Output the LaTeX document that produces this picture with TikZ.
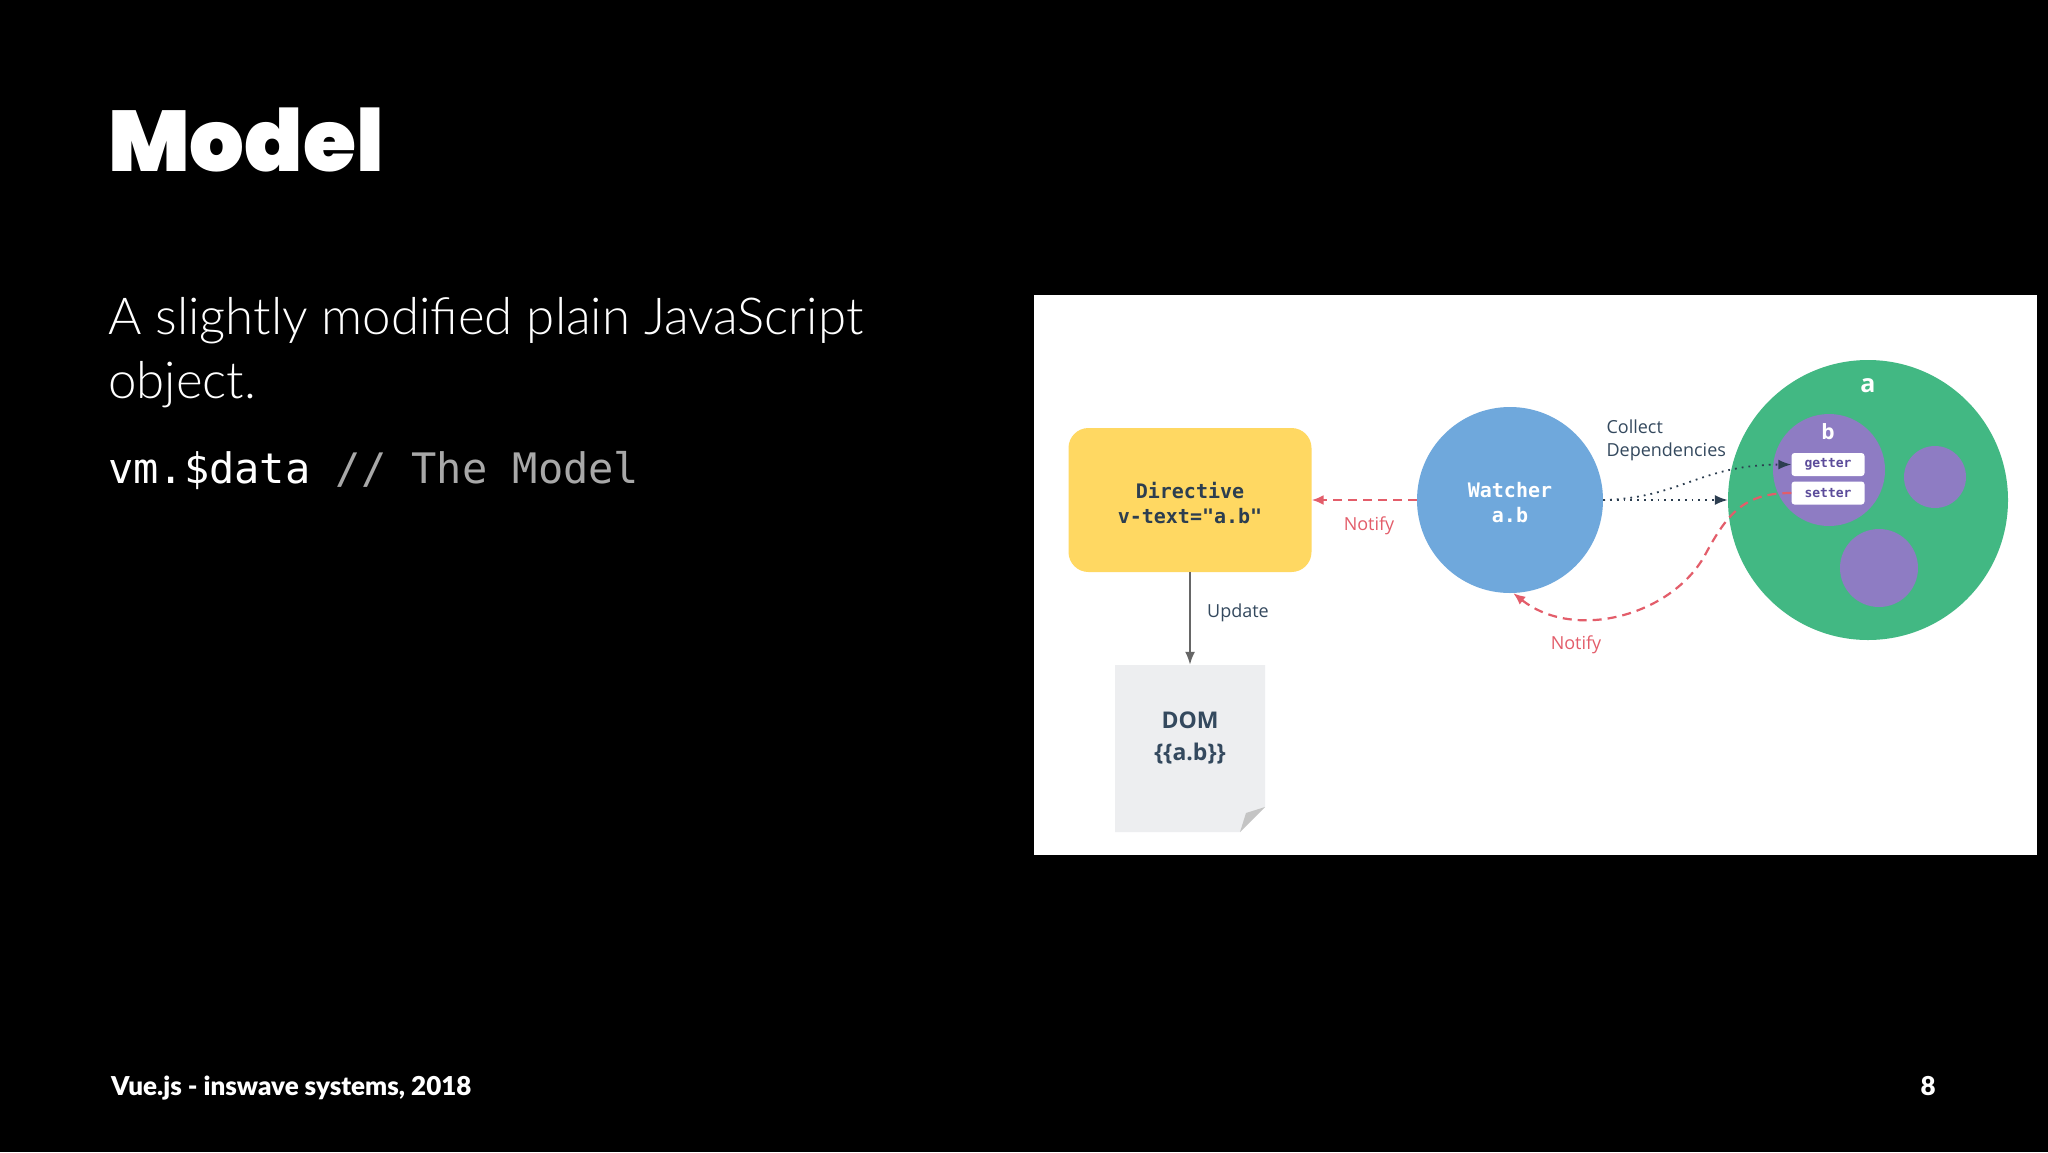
\documentclass[tikz,border=0pt]{standalone}
\usepackage{fontspec}
\setmainfont{Lato}
\newfontfamily\bodyfont{Lato Light}
\newfontfamily\footfont{Lato Black}
\newfontfamily\titlefont{Poppins Black}
\newfontfamily\codefont{DejaVu Sans Mono}
\newfontfamily\diafont{Open Sans}
\usetikzlibrary{arrows.meta}
\definecolor{dyellow}{HTML}{FFD862}
\definecolor{dblue}{HTML}{6FA8DC}
\definecolor{dgreen}{HTML}{42B883}
\definecolor{dpurple}{HTML}{8E7CC3}
\definecolor{dred}{HTML}{E35D6A}
\definecolor{dnavy}{HTML}{2C3E50}
\definecolor{dtext}{HTML}{34495E}
\definecolor{domfill}{HTML}{EDEEF0}
\definecolor{foldgray}{HTML}{C4C4C4}
\definecolor{getpurple}{HTML}{5B4B9A}
\definecolor{cmtgray}{HTML}{A8A8A8}
\begin{document}
\begin{tikzpicture}[x=1pt,y=-1pt,
  codetxt/.style={font=\codefont\bfseries\fontsize{20}{25}\selectfont, align=center},
  dirbox/.style={fill=dyellow, rounded corners=20pt, minimum width=243pt, minimum height=144pt, inner sep=0pt},
  circ/.style={circle, inner sep=0pt},
  accbox/.style={fill=white, rounded corners=3pt, minimum width=73pt, minimum height=23pt, inner sep=0pt, font=\codefont\bfseries\fontsize{13}{15}\selectfont, text=getpurple},
  lbl/.style={font=\diafont\fontsize{18}{23}\selectfont, text=dtext, align=left},
  redlbl/.style={font=\diafont\fontsize{18}{23}\selectfont, text=dred},
  reddash/.style={draw=dred, line width=2.2pt, dash pattern=on 9pt off 6pt, -{Latex[length=12pt,width=10pt]}},
  navydot/.style={draw=dnavy, line width=1.8pt, dash pattern=on 1.8pt off 5pt, -{Latex[length=13pt,width=10pt]}},
  grayarrow/.style={draw=black!60, line width=2pt, -{Latex[length=13pt,width=10pt]}},
  whitetxt/.style={text=white},
]
\useasboundingbox (0,0) rectangle (2048,1152);
\fill[black] (0,0) rectangle (2048,1152);

% slide text
\node[anchor=base west, inner sep=0pt, text=white, font=\titlefont\fontsize{86}{100}\selectfont] (title) at (108,171) {Model};
\node[anchor=base west, inner sep=0pt, text=white, font=\bodyfont\fontsize{51}{60}\selectfont] (body1) at (108,334) {A slightly modified plain JavaScript};
\node[anchor=base west, inner sep=0pt, text=white, font=\bodyfont\fontsize{51}{60}\selectfont] (body2) at (108,398) {object.};
\node[anchor=base west, inner sep=0pt, text=white, font=\codefont\fontsize{42}{50}\selectfont] (code) at (108,483) {vm.\$data \textcolor{cmtgray}{// The Model}};
\node[anchor=base west, inner sep=0pt, text=white, font=\footfont\fontsize{26}{30}\selectfont] (footer) at (111,1095) {Vue.js - inswave systems, 2018};
\node[anchor=base east, inner sep=0pt, text=white, font=\footfont\fontsize{26}{30}\selectfont] (page) at (1936,1095) {8};

% diagram panel
\node[fill=white, minimum width=1003pt, minimum height=560pt, inner sep=0pt] (panel) at (1535.5,575) {};

% directive
\node[dirbox] (dir) at (1190,500) {};
\node[codetxt, text=dnavy] (dirtxt) at (1190,503) {Directive\\v-text="a.b"};

% watcher
\node[circ, fill=dblue, minimum size=186pt] (wat) at (1510,500) {};
\node[codetxt, text=white] (wattxt) at (1510,503) {Watcher\\a.b};

% object a
\node[circ, fill=dgreen, minimum size=280pt] (acirc) at (1868,500) {};
\node[whitetxt, font=\diafont\bfseries\fontsize{25}{28}\selectfont] (alabel) at (1868,386) {a};
\node[circ, fill=dpurple, minimum size=112pt] (bcirc) at (1829,470) {};
\node[whitetxt, font=\diafont\bfseries\fontsize{21}{24}\selectfont] (blabel) at (1828,432) {b};
\node[accbox] (getter) at (1828,464.5) {getter};
\node[accbox] (setter) at (1828,493) {setter};
\node[circ, fill=dpurple, minimum size=62pt] (c2) at (1935,477) {};
\node[circ, fill=dpurple, minimum size=78pt] (c3) at (1879,568) {};

% DOM
\fill[domfill] (1115,665) -- (1265,665) -- (1265,807) -- (1240,832) -- (1115,832) -- cycle;
\fill[foldgray] (1240,832) -- (1265,807) -- (1246,813) -- cycle;
\node[minimum width=150pt, minimum height=167pt, inner sep=0pt] (dom) at (1190,748.5) {};
\node[align=center, text=dtext, font=\diafont\bfseries\fontsize{23}{32}\selectfont] (domtxt) at (1190,738) {DOM\\\{\{a.b\}\}};

% connectors
\draw[reddash] (wat.west) -- (dir.east);
\node[redlbl] (notify1) at (1369,526) {Notify};

\draw[grayarrow] (dir.south) -- (dom.north);
\node[lbl] (update) at (1238,613) {Update};

\draw[navydot] (wat.east) -- (acirc.west);
\draw[navydot] (wat.east) .. controls (1680,498) and (1700,465) .. (getter.west);
\node[lbl, anchor=west] (collect) at (1603,440) {Collect\\Dependencies};

\draw[reddash] (setter.west) .. controls (1745,493) and (1728,512) .. (1705,555) .. controls (1672,615) and (1575,642) .. (wat.-88);
\node[redlbl] (notify2) at (1576,645) {Notify};
\end{tikzpicture}
\end{document}
